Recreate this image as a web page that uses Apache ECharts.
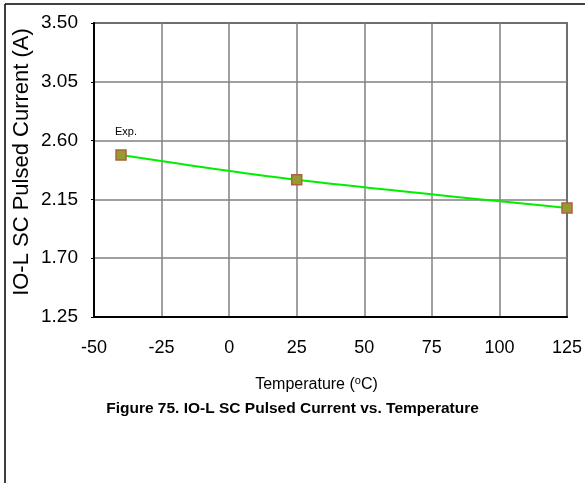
<!DOCTYPE html>
<html>
<head>
<meta charset="utf-8">
<script src="https://cdn.jsdelivr.net/npm/echarts@6/dist/echarts.min.js"></script>
<style>
html,body{margin:0;padding:0;background:#fff;}
#chart{width:585px;height:483px;}
</style>
</head>
<body>
<div id="chart"></div>
<script>
// Data
var temperatures = [-40, 25, 125];
var pulsedCurrent = [2.49, 2.30, 2.085];
var pointLabels = ['Exp.', '', ''];
var yAxisName = 'IO-L SC Pulsed Current (A)';
var figureTitle = 'Figure 75. IO-L SC Pulsed Current vs. Temperature';

var font = 'Arial, "Liberation Sans", sans-serif';
var chart = echarts.init(document.getElementById('chart'), null, {renderer: 'canvas'});

var seriesData = temperatures.map(function (t, i) {
  return {
    value: [t, pulsedCurrent[i]],
    label: {
      show: pointLabels[i] !== '',
      formatter: pointLabels[i],
      position: 'top',
      distance: 12,
      offset: [5, 0],
      fontSize: 11,
      color: '#000',
      fontFamily: font
    }
  };
});

chart.setOption({
  animation: false,
  backgroundColor: '#fff',
  grid: {left: 94, top: 23, right: 18, bottom: 166, show: true, borderColor: '#000', borderWidth: 1.5,
         containLabel: false, outerBoundsMode: 'none'},
  xAxis: {
    type: 'value', min: -50, max: 125, interval: 25,
    name: '{a|Temperature (}{s|o}{a|C)}',
    nameLocation: 'middle', nameGap: 58, nameMoveOverlap: false,
    nameTextStyle: {
      padding: [0, 28, 0, 0],
      rich: {
        a: {fontSize: 16, fontFamily: font, color: '#000', lineHeight: 20},
        s: {fontSize: 11, fontFamily: font, color: '#000', verticalAlign: 'top', lineHeight: 20}
      }
    },
    axisLine: {onZero: false, lineStyle: {color: '#000', width: 2}},
    axisTick: {show: false},
    axisLabel: {fontSize: 18, color: '#000', fontFamily: font, margin: 22},
    splitLine: {show: true, lineStyle: {color: '#808080', width: 1.5}}
  },
  yAxis: {
    type: 'value', min: 1.25, max: 3.5, interval: 0.45,
    name: yAxisName, nameLocation: 'middle', nameGap: 61, nameMoveOverlap: false,
    nameTextStyle: {fontSize: 22, color: '#000', fontFamily: font, padding: [0, 0, 0, 16]},
    axisLine: {show: true, onZero: false, lineStyle: {color: '#000', width: 2}},
    axisTick: {show: true, length: 3, lineStyle: {color: '#000'}},
    axisLabel: {fontSize: 19, color: '#000', fontFamily: font, margin: 16,
      formatter: function (v) { return v.toFixed(2); }},
    splitLine: {show: true, lineStyle: {color: '#808080', width: 1.5}}
  },
  series: [{
    type: 'line',
    data: seriesData,
    smooth: 0.3,
    symbol: 'rect',
    symbolSize: 10,
    lineStyle: {color: '#00ee00', width: 2},
    itemStyle: {color: '#999933', borderColor: '#a8643c', borderWidth: 1.5},
    z: 5
  }],
  graphic: [
    {type: 'line', shape: {x1: 5, y1: 4, x2: 585, y2: 4}, style: {stroke: '#000', lineWidth: 1.5}},
    {type: 'line', shape: {x1: 5, y1: 4, x2: 5, y2: 483}, style: {stroke: '#000', lineWidth: 1.5}},
    {type: 'text', left: 'center', top: 401, style: {text: figureTitle, fontSize: 15.5, fontWeight: 'bold', fontFamily: font, fill: '#000'}}
  ]
});
</script>
</body>
</html>
